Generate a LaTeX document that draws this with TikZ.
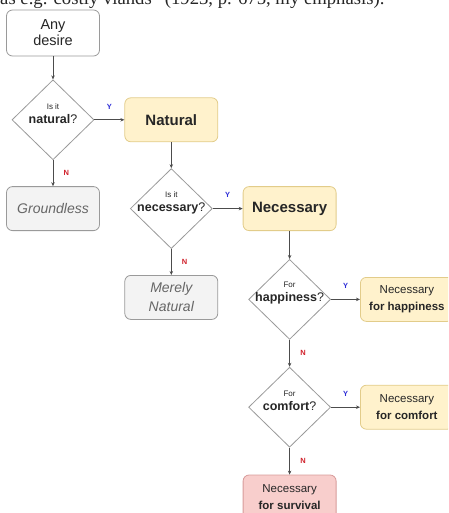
\documentclass[tikz,border=0pt]{standalone}
\usepackage{fontspec}
\setmainfont{Liberation Sans}
\newfontfamily\quotefont{Liberation Serif}
\usetikzlibrary{arrows.meta, positioning, shapes.geometric}

\definecolor{boxline}{HTML}{9A9A9A}
\definecolor{greyfill}{HTML}{F3F3F3}
\definecolor{greytext}{HTML}{666666}
\definecolor{yellowfill}{HTML}{FFF2CC}
\definecolor{yellowline}{HTML}{E2CC8A}
\definecolor{redfill}{HTML}{F8CECC}
\definecolor{redline}{HTML}{D79B9A}
\definecolor{ylabel}{HTML}{2B2BD6}
\definecolor{nlabel}{HTML}{D0202A}

% question inside a decision diamond: small first line, bold key word
\newcommand{\askline}[2]{{\fontsize{8}{8}\selectfont #1}\\\textbf{#2}?}

\begin{document}
\begin{tikzpicture}[
        every node/.style={align=center, text=black!85},
        box/.style={draw=boxline, rounded corners=6pt, minimum width=93pt,
                    minimum height=44pt, inner sep=2pt, line width=0.8pt},
        ask/.style={diamond, draw=boxline, fill=white, minimum width=82pt,
                    minimum height=80pt, inner sep=0pt, line width=0.8pt},
        asktext/.style={label distance=0pt, yshift=6pt,
                    font=\fontsize{12.5}{14}\selectfont},
        arr/.style={-{Stealth[length=4pt, width=3.5pt]}, draw=black!70, line width=0.7pt},
        yes/.style={above=7pt, text=ylabel, font=\fontsize{7.5}{7.5}\selectfont\bfseries},
        no/.style={right=7pt, text=nlabel, font=\fontsize{7.5}{7.5}\selectfont\bfseries},
        node distance=26pt and 29pt
    ]
        \useasboundingbox (0,0) rectangle (448pt,-513pt);
        \clip (0,0) rectangle (448pt,-513pt);
        \node[anchor=base west, inner sep=0pt, font=\quotefont\fontsize{18.7}{18.7}\selectfont]
            (quote) at (0,-5pt) {as e.g. costly viands” (1923, p. 675, my emphasis).};
        \node[box, fill=white, minimum height=46pt, font=\fontsize{14.5}{16}\selectfont]
            (desire) at (53pt,-33pt) {Any\\desire};
        \node[ask, below=23pt of desire,
              label={[asktext]center:\askline{Is it}{natural}}] (natq) {};
        \node[box, fill=yellowfill, draw=yellowline, right=30pt of natq,
              font=\fontsize{15}{17}\selectfont\bfseries] (natural) {Natural};
        \node[box, fill=greyfill, below=of natq,
              font=\fontsize{14}{19}\selectfont\itshape, text=greytext] (groundless) {Groundless};
        \node[ask, below=of natural,
              label={[asktext]center:\askline{Is it}{necessary}}] (necq) {};
        \node[box, fill=yellowfill, draw=yellowline, right=30pt of necq,
              font=\fontsize{15}{17}\selectfont\bfseries] (necessary) {Necessary};
        \node[box, fill=greyfill, below=of necq,
              font=\fontsize{14}{19}\selectfont\itshape, text=greytext] (merely) {Merely\\Natural};
        \node[ask, below=28pt of necessary,
              label={[asktext]center:\askline{For}{happiness}}] (hapq) {};
        \node[box, fill=yellowfill, draw=yellowline, right=of hapq,
              font=\fontsize{11.5}{17}\selectfont] (forhap) {Necessary\\\textbf{for happiness}};
        \node[ask, below=27pt of hapq,
              label={[asktext]center:\askline{For}{comfort}}] (comq) {};
        \node[box, fill=yellowfill, draw=yellowline, right=of comq,
              font=\fontsize{11.5}{17}\selectfont] (forcom) {Necessary\\\textbf{for comfort}};
        \node[box, fill=redfill, draw=redline, below=27pt of comq,
              font=\fontsize{11.5}{17}\selectfont] (survival) {Necessary\\\textbf{for survival}};
        \draw[arr] (desire) -- (natq);
        \draw[arr] (natq) -- node[yes]{Y} (natural);
        \draw[arr] (natq) -- node[no]{N} (groundless);
        \draw[arr] (natural) -- (necq);
        \draw[arr] (necq) -- node[yes]{Y} (necessary);
        \draw[arr] (necq) -- node[no]{N} (merely);
        \draw[arr] (necessary) -- (hapq);
        \draw[arr] (hapq) -- node[yes]{Y} (forhap);
        \draw[arr] (hapq) -- node[no]{N} (comq);
        \draw[arr] (comq) -- node[yes]{Y} (forcom);
        \draw[arr] (comq) -- node[no]{N} (survival);
    \end{tikzpicture}
\end{document}
